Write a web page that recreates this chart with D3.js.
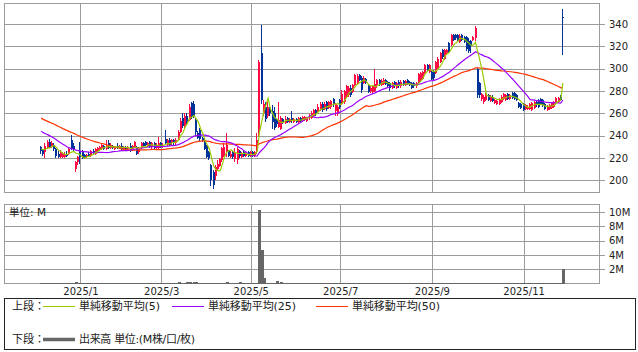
<!DOCTYPE html>
<html><head><meta charset="utf-8">
<script src="https://cdn.jsdelivr.net/npm/d3@7"></script>
<style>body{margin:0;background:#fff}svg{display:block}</style>
</head><body><svg id="c" width="638" height="352"></svg>
<script>
// ---- data (daily, Dec 2024 - Dec 2025) ----
const open = [
230,227,225,229,234,230,232,228,224,221,
221,221,224,224,236,231,210,216,226,225,
223,221,224,222,226,224,226,227,228,231,
228,233,229,231,228,231,229,231,228,230,
228,231,227,230,230,225,229,233,234,231,
234,230,233,229,229,233,230,237,232,236,
233,236,233,236,243,256,248,258,254,269,
268,254,242,245,238,236,231,225,214,207,
204,210,213,218,222,225,226,221,225,219,
218,226,221,225,222,225,222,225,222,226,
242,314,260,266,258,265,262,260,254,248,
246,255,251,256,252,256,252,255,252,256,
253,254,253,256,256,258,263,261,263,268,
264,270,265,266,273,262,259,272,268,270,
275,276,283,279,285,286,294,292,287,291,
284,280,279,280,285,290,285,286,290,288,
287,283,288,283,288,284,289,285,290,288,
287,287,284,288,290,291,296,303,297,297,
297,296,301,306,317,309,313,323,321,330,
330,330,324,330,328,328,325,325,326,327,
300,287,273,270,272,276,271,275,269,268,
268,270,273,272,277,273,278,278,276,269,
268,268,264,264,264,263,265,270,272,273,
272,268,263,264,265,266,269,270,275,346];
const high = [
231,228,233,236,237,235,233,229,226,227,
225,225,226,229,241,233,217,222,234,227,
224,224,225,227,228,229,230,231,233,232,
236,236,233,232,231,233,232,233,231,231,
231,233,232,235,231,230,234,234,235,234,
235,234,234,233,239,234,233,245,237,238,
237,237,238,245,256,260,260,260,268,270,
271,256,244,247,239,237,232,226,215,209,
214,218,220,230,233,242,227,226,226,229,
230,227,225,226,225,226,226,226,226,242,
308,339,272,270,272,266,267,266,256,270,
258,256,258,257,256,262,256,256,257,257,
258,258,257,259,262,264,264,268,270,270,
270,271,271,272,274,269,267,273,281,281,
285,284,285,286,295,295,295,293,293,292,
285,284,285,300,291,291,291,292,291,289,
288,288,289,288,290,290,290,290,291,289,
288,288,288,296,297,298,304,304,304,298,
299,307,310,315,318,318,318,324,331,331,
331,331,331,331,329,329,327,326,329,338,
301,288,278,276,278,277,276,276,273,272,
274,276,278,277,278,277,279,279,277,270,
269,269,268,267,269,270,271,271,273,274,
273,269,267,268,270,271,275,275,276,353];
const low = [
224,222,220,228,229,229,226,220,220,220,
220,220,221,223,227,226,207,214,215,219,
219,220,221,221,223,223,225,226,227,227,
227,228,228,228,227,228,228,227,227,227,
226,225,226,229,223,224,228,230,231,230,
229,228,228,228,228,229,229,232,231,231,
232,232,232,235,242,247,247,250,253,255,
256,241,237,235,234,227,220,218,195,192,
200,209,212,216,221,221,221,220,219,216,
215,220,220,221,221,221,221,221,221,224,
240,268,258,252,256,258,246,245,248,247,
245,250,250,251,251,251,251,251,251,252,
252,253,252,254,255,257,258,260,262,261,
263,262,264,264,266,258,258,264,267,268,
274,275,275,278,284,285,289,278,286,286,
278,278,277,279,283,284,284,285,285,283,
280,282,283,282,283,283,284,284,285,284,
282,283,283,287,289,290,295,297,296,290,
290,295,300,305,309,308,312,314,320,325,
326,324,323,325,323,316,314,314,325,325,
274,274,271,268,271,271,270,270,268,267,
267,269,272,271,272,272,273,272,271,265,
264,262,263,263,263,262,264,266,265,267,
266,263,262,263,264,265,268,269,271,312];
const close = [
226,224,231,234,230,233,228,222,221,225,
224,224,222,228,228,227,216,221,221,220,
221,223,222,226,224,228,229,230,232,228,
231,229,232,229,230,229,231,228,230,228,
230,226,231,234,224,229,233,231,232,233,
230,233,229,232,233,230,232,233,236,232,
236,233,236,243,253,249,258,252,266,257,
258,243,238,237,236,228,221,220,200,196,
212,215,219,229,230,232,222,224,221,225,
228,222,224,222,224,222,225,222,225,236,
306,272,268,255,266,260,252,247,250,254,
256,252,255,252,255,253,255,252,256,253,
257,257,256,258,260,263,260,266,268,263,
268,264,270,271,268,268,266,266,277,280,
284,283,276,285,294,293,290,281,292,287,
279,283,284,286,290,285,289,290,286,284,
283,287,284,287,284,288,285,289,286,285,
283,284,287,295,296,297,303,298,303,291,
292,306,309,314,310,317,317,315,330,326,
327,325,329,326,324,318,316,320,328,336,
276,276,277,275,277,272,275,271,272,271,
273,275,277,276,273,276,274,273,272,266,
265,263,267,266,268,269,270,267,266,268,
267,264,266,267,269,270,274,274,272,345];
// closes before the first shown day (estimated from where the moving averages start)
const priorClose = [
278,276,279,275,273,274,271,272,270,273,
270,268,269,267,268,266,265,
262,260,261,258,259,256,257,255,258,256,
254,257,259,256,255,258,257,254,256,252,250,
245,240,236,233,231,228,226,227,229,228,230];
// volume in millions
const volume = [
0.03,0.03,0.03,0.03,0.03,0.03,0.03,0.03,0.03,0.03,
0.03,0.03,0.03,0.03,0.03,0.03,0.2,0.03,0.03,0.03,
0.03,0.03,0.03,0.03,0.03,0.03,0.03,0.03,0.03,0.03,
0.03,0.03,0.03,0.03,0.03,0.03,0.03,0.03,0.03,0.03,
0.03,0.03,0.03,0.03,0.03,0.03,0.03,0.03,0.03,0.03,
0.03,0.03,0.03,0.03,0.03,0.03,0.03,0.03,0.03,0.03,
0.03,0.03,0.03,0.2,0.03,0.03,0.03,0.2,0.2,0.03,
0.2,0.2,0.03,0.03,0.03,0.03,0.03,0.03,0.03,0.03,
0.03,0.03,0.03,0.03,0.03,0.2,0.03,0.03,0.03,0.03,
0.03,0.2,0.03,0.03,0.03,0.03,0.03,0.03,0.03,0.05,
10.3,4.7,0.8,0.1,0.05,0.05,0.05,0.05,0.36,0.05,
0.22,0.05,0.03,0.03,0.03,0.03,0.03,0.03,0.03,0.03,
0.03,0.03,0.03,0.03,0.03,0.03,0.03,0.03,0.03,0.03,
0.03,0.03,0.03,0.03,0.03,0.03,0.03,0.03,0.03,0.15,
0.03,0.03,0.03,0.03,0.03,0.03,0.03,0.03,0.03,0.03,
0.03,0.03,0.03,0.03,0.03,0.03,0.03,0.03,0.03,0.03,
0.03,0.03,0.03,0.03,0.03,0.03,0.03,0.03,0.03,0.03,
0.03,0.03,0.03,0.03,0.03,0.03,0.03,0.03,0.03,0.03,
0.03,0.12,0.03,0.03,0.03,0.03,0.03,0.03,0.03,0.03,
0.03,0.03,0.03,0.03,0.03,0.03,0.03,0.03,0.03,0.03,
0.12,0.03,0.03,0.03,0.03,0.03,0.03,0.03,0.03,0.03,
0.03,0.03,0.03,0.03,0.03,0.03,0.03,0.03,0.03,0.03,
0.03,0.03,0.03,0.03,0.03,0.03,0.03,0.03,0.03,0.03,
0.03,0.03,0.03,0.03,0.03,0.03,0.03,0.03,0.03,2.05];
const priceTicks = [200,220,240,260,280,300,320,340];
const volTicks = [2,4,6,8,10];
const volTickLabels = ["2M","4M","6M","8M","10M"];
const monthIdx = [18,55,96,137,179,221];
const monthLabels = ["2025/1","2025/3","2025/5","2025/7","2025/9","2025/11"];
const maPeriods = [50,25,5];
const legendPeriods = [5,25,50];
const legendLabels = ["単純移動平均(5)","単純移動平均(25)","単純移動平均(50)"];
const legendTop = "上段：", legendBottom = "下段：", legendVol = "出来高 単位:(M株/口/枚)";
const unitLabel = "単位: M";

// ---- drawing ----
const maColors = {5:"#99cc00",25:"#9900ff",50:"#ff3300"};
const svg = d3.select("#c");
const FONT = "'DejaVu Sans','Noto Sans CJK JP',sans-serif";
const GRID = "#9b9b9b";
const UP = "#ff0a45", DOWN = "#003399";
const x = d3.scaleLinear().domain([-17,256]).range([4,600]);
const yP = d3.scaleLinear().domain([188.9,358.5]).range([192.7,3.3]);
const yV = d3.scaleLinear().domain([0,11.05]).range([283.6,204.5]);
const px = v => Math.round(v)+0.5;

function panel(y0,y1,yScale,ticks){
  const g = svg.append("g").attr("shape-rendering","crispEdges");
  g.selectAll("line.h").data(ticks).join("line")
    .attr("x1",4).attr("x2",600)
    .attr("y1",d=>px(yScale(d))).attr("y2",d=>px(yScale(d)))
    .attr("stroke",GRID);
  g.selectAll("line.v").data(monthIdx).join("line")
    .attr("x1",d=>px(x(d))).attr("x2",d=>px(x(d)))
    .attr("y1",y0).attr("y2",y1).attr("stroke",GRID);
  g.append("rect").attr("x",4.5).attr("y",y0+0.5).attr("width",595).attr("height",y1-y0-1)
    .attr("fill","none").attr("stroke",GRID);
}
panel(3,193,yP,priceTicks);
panel(204,284,yV,volTicks);

// candles
const idx = d3.range(close.length);
const cg = svg.append("g").attr("shape-rendering","crispEdges");
const col = i => close[i] >= open[i] ? UP : DOWN;
cg.selectAll("line").data(idx).join("line")
  .attr("x1",i=>Math.round(x(i))-0.5).attr("x2",i=>Math.round(x(i))-0.5)
  .attr("y1",i=>yP(high[i])).attr("y2",i=>yP(low[i]))
  .attr("stroke",col);
cg.selectAll("rect").data(idx).join("rect")
  .attr("x",i=>Math.round(x(i))-1).attr("width",2)
  .attr("y",i=>Math.min(yP(open[i]),yP(close[i])))
  .attr("height",i=>Math.max(1,Math.abs(yP(open[i])-yP(close[i]))))
  .attr("fill",col);

// moving averages
const allClose = priorClose.concat(close);
const P = priorClose.length;
const sma = n => close.map((_,i)=>d3.mean(allClose.slice(P+i-n+1,P+i+1)));
const line = d3.line().x((d,i)=>x(i)).y(d=>yP(d));
maPeriods.forEach(p=>{
  svg.append("path").datum(sma(p)).attr("d",line)
    .attr("fill","none").attr("stroke",maColors[p]).attr("stroke-width",1.2);
});

// volume bars
svg.append("g").attr("shape-rendering","crispEdges")
  .selectAll("rect").data(idx).join("rect")
  .attr("x",i=>Math.round(x(i))-1).attr("width",3)
  .attr("y",i=>yV(volume[i])).attr("height",i=>yV(0)-yV(volume[i]))
  .attr("fill","#666");

// axes
function styleAxis(g){
  g.select(".domain").remove();
  g.selectAll(".tick line").attr("stroke",GRID).attr("shape-rendering","crispEdges");
  g.selectAll("text").attr("font-family",FONT).attr("font-size",10).attr("fill","#222");
}
svg.append("g").attr("transform","translate(600,0)")
  .call(d3.axisRight(yP).tickValues(priceTicks).tickSize(5).tickPadding(4)).call(styleAxis);
svg.append("g").attr("transform","translate(600,0)")
  .call(d3.axisRight(yV).tickValues(volTicks).tickSize(5).tickPadding(4)
    .tickFormat((d,i)=>volTickLabels[i])).call(styleAxis);
svg.append("g").attr("transform","translate(0,283.6)")
  .call(d3.axisBottom(x).tickValues(monthIdx).tickSize(0).tickPadding(4.3)
    .tickFormat((d,i)=>monthLabels[i])).call(styleAxis);

svg.append("text").attr("x",9).attr("y",212).attr("dy","0.35em")
  .attr("font-family",FONT).attr("font-size",10.5).attr("fill","#222").text(unitLabel);

// legend
const lg = svg.append("g").attr("font-family",FONT).attr("font-size",11).attr("fill","#222");
lg.append("rect").attr("x",4.5).attr("y",298.5).attr("width",631).attr("height",50.5)
  .attr("fill","none").attr("stroke","#222").attr("shape-rendering","crispEdges");
lg.append("text").attr("x",12).attr("y",306).attr("dy","0.36em").text(legendTop);
const lx = [43,172,316];
const lw = [81,88,88];
legendPeriods.forEach((p,k)=>{
  lg.append("line").attr("x1",lx[k]).attr("x2",lx[k]+32).attr("y1",306.5).attr("y2",306.5)
    .attr("stroke",maColors[p]).attr("stroke-width",1);
  lg.append("text").attr("x",lx[k]+36).attr("y",306).attr("dy","0.36em")
    .attr("textLength",lw[k]).attr("lengthAdjust","spacing").text(legendLabels[k]);
});
lg.append("text").attr("x",12).attr("y",339).attr("dy","0.36em").text(legendBottom);
lg.append("line").attr("x1",43).attr("x2",75).attr("y1",339.5).attr("y2",339.5)
  .attr("stroke","#666").attr("stroke-width",3.5);
lg.append("text").attr("x",79).attr("y",339).attr("dy","0.36em")
  .attr("textLength",116).attr("lengthAdjust","spacing").text(legendVol);
</script></body></html>
